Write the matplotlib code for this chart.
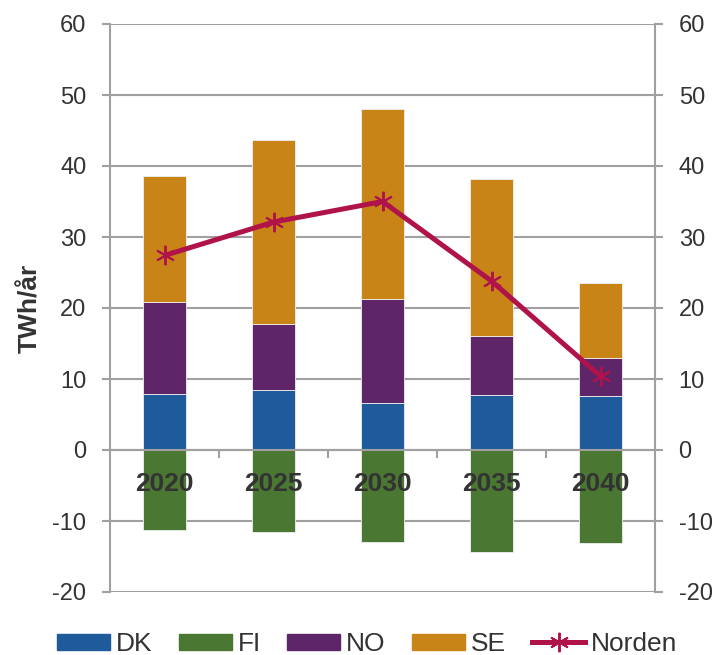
import matplotlib
matplotlib.use("Agg")
import matplotlib.pyplot as plt
import numpy as np
from matplotlib.lines import Line2D
from matplotlib.patches import Patch

plt.rcParams['font.family'] = ['Liberation Sans', 'DejaVu Sans']
plt.rcParams['axes.unicode_minus'] = False

years = ["2020", "2025", "2030", "2035", "2040"]
dk = [7.9, 8.4, 6.6, 7.8, 7.6]
fi = [-11.2, -11.6, -13.0, -14.4, -13.1]
no = [13.0, 9.4, 14.7, 8.2, 5.3]
se = [17.7, 25.9, 26.7, 22.2, 10.6]
norden = [27.4, 32.1, 35.0, 23.8, 10.4]
yticks = [-20, -10, 0, 10, 20, 30, 40, 50, 60]

c_dk = '#1F5A9A'
c_fi = '#4A7731'
c_no = '#5E2568'
c_se = '#C88417'
c_nd = '#B0124A'
grid_c = '#A0A0A0'
txt_c = '#333333'

fig = plt.figure(figsize=(7.21, 6.55), dpi=100)
ax = fig.add_axes([110/721, 63/655, 545/721, 568/655])

x = np.arange(len(years))
w = 0.4
dk_a = np.array(dk); no_a = np.array(no); se_a = np.array(se)
ec = '#F0F0F0'
ax.bar(x, dk_a, w, color=c_dk, edgecolor=ec, linewidth=0.6, zorder=2)
ax.bar(x, fi, w, color=c_fi, edgecolor=ec, linewidth=0.6, zorder=2)
ax.bar(x, no_a, w, bottom=dk_a, color=c_no, edgecolor=ec, linewidth=0.6, zorder=2)
ax.bar(x, se_a, w, bottom=dk_a + no_a, color=c_se, edgecolor=ec, linewidth=0.6, zorder=2)
ax.plot(x, norden, color=c_nd, linewidth=3.6, marker=(6, 2, 0), markersize=14,
        markeredgewidth=1.4, markeredgecolor=c_nd, zorder=4, solid_capstyle='butt')

ax.set_xlim(-0.5, len(years) - 0.5)
ax.set_ylim(-20, 60)
ax.set_yticks(yticks)
ax.yaxis.grid(True, color=grid_c, linewidth=1.5)
ax.xaxis.grid(False)
ax.yaxis.set_zorder(0.5)
ax.xaxis.set_zorder(5)

ax.spines['top'].set_visible(False)
for s in ['left', 'right', 'bottom']:
    ax.spines[s].set_color(grid_c)
    ax.spines[s].set_linewidth(1.5)
ax.spines['bottom'].set_position(('data', 0))
ax.spines['bottom'].set_zorder(3)

ax.tick_params(axis='y', which='both', left=True, right=True, labelleft=True, labelright=True,
               direction='out', length=6, width=1.5, color=grid_c, labelsize=17,
               labelcolor=txt_c, pad=11)
ax.set_xticks(x)
ax.set_xticklabels(years, fontweight='bold', fontsize=19, color=txt_c)
ax.set_xticks(np.arange(0.5, len(years) - 1, 1), minor=True)
ax.tick_params(axis='x', which='major', length=0, pad=16)
ax.tick_params(axis='x', which='minor', length=6, width=1.5, color=grid_c, direction='out')

ax.set_ylabel('TWh/år', fontsize=19, fontweight='bold', color=txt_c)
ax.yaxis.set_label_coords(-0.125, 0.5)

handles = [Patch(color=c_dk, label='DK'), Patch(color=c_fi, label='FI'),
           Patch(color=c_no, label='NO'), Patch(color=c_se, label='SE'),
           Line2D([0], [0], color=c_nd, linewidth=3.6, marker=(6, 2, 0), markersize=14,
                  markeredgewidth=1.4, label='Norden')]
leg = fig.legend(handles=handles, loc='center left', bbox_to_anchor=(57/721, 1 - 644/655),
                 ncol=5, frameon=False, fontsize=19, handlelength=2.0, handleheight=0.54,
                 handletextpad=0.23, columnspacing=1.0, borderpad=0, borderaxespad=0)
for t in leg.get_texts():
    t.set_color(txt_c)

fig.savefig('out.png', dpi=100)
